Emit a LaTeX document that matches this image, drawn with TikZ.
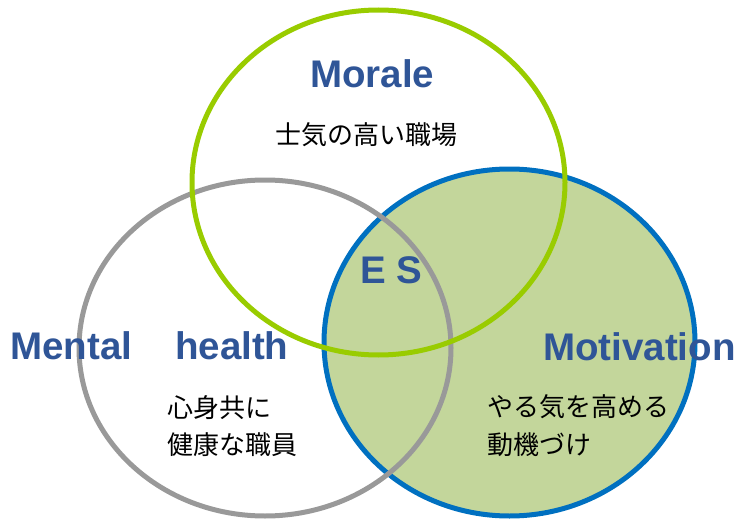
\documentclass[tikz,border=0pt]{standalone}
\usepackage{fontspec}
\setmainfont{Liberation Sans}
\newfontfamily\jp{Noto Sans CJK JP}
\definecolor{morgreen}{HTML}{99CC00}
\definecolor{mhgray}{HTML}{999999}
\definecolor{motblue}{HTML}{0070C0}
\definecolor{motfill}{HTML}{C3D69B}
\definecolor{titleblue}{HTML}{2F5597}
\begin{document}
\begin{tikzpicture}[x=1pt,y=-1pt,
  ring/.style={line width=5pt},
  title/.style={inner sep=0pt, anchor=base west, text=titleblue, font=\fontsize{38.5}{40}\selectfont\bfseries},
  jtext/.style={inner sep=0pt, anchor=west, text=black, font=\jp\fontsize{26}{28}\selectfont}]
\useasboundingbox (0,0) rectangle (737,519);
% Motivation (blue, filled)
\draw[ring, draw=motblue, fill=motfill] (509.5,342.5) ellipse [x radius=185.5pt, y radius=173.5pt];
% Mental health (gray)
\draw[ring, draw=mhgray] (265,348) ellipse [x radius=186pt, y radius=168pt];
% Morale (green)
\draw[ring, draw=morgreen] (378.5,182.5) ellipse [x radius=186.5pt, y radius=172.5pt];
% titles
\node[title] (morale) at (310,88) {Morale};
\node[title] (mental) at (10,359) {Mental\hspace{43pt}health};
\node[title] (motiv) at (543,360) {Motivation};
\node[title] (es) at (360,283) {E S};
% Japanese text
\node[jtext] (morj) at (275,135) {士気の高い職場};
\node[jtext] (mh1) at (167,408) {心身共に};
\node[jtext] (mh2) at (167,445) {健康な職員};
\node[jtext] (mo1) at (487,407) {やる気を高める};
\node[jtext] (mo2) at (487,445) {動機づけ};
\end{tikzpicture}
\end{document}
